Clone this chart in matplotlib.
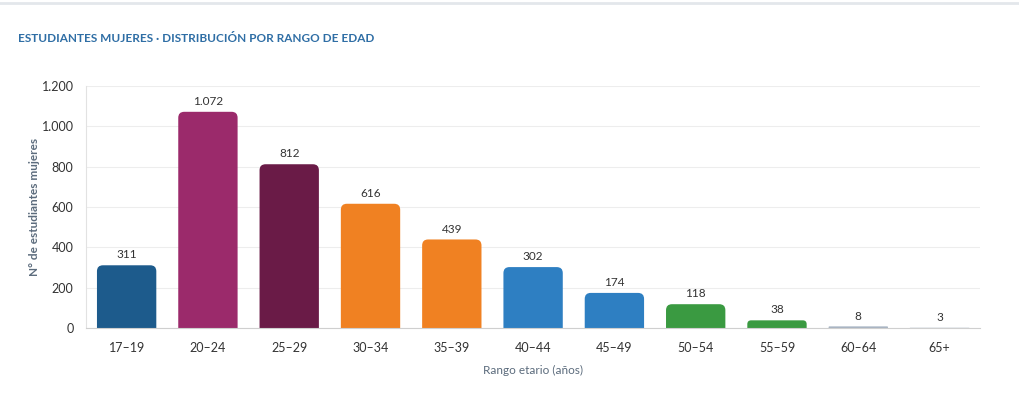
import matplotlib.pyplot as plt
from matplotlib.patches import PathPatch
from matplotlib.path import Path
from matplotlib.lines import Line2D
from matplotlib.ticker import FuncFormatter

plt.rcParams['font.family'] = ['Lato', 'DejaVu Sans']

rangos = ['17–19', '20–24', '25–29', '30–34', '35–39', '40–44',
          '45–49', '50–54', '55–59', '60–64', '65+']
mujeres = [311, 1072, 812, 616, 439, 302, 174, 118, 38, 8, 3]
colores = ['#1d5b8c', '#9b2a6b', '#6a1b47', '#f08122', '#f08122', '#2e7fc2',
           '#2e7fc2', '#3a9a41', '#3a9a41', '#a7b3c2', '#dde1e6']


def miles(v, pos=None):
    return f'{int(v):,}'.replace(',', '.')


fig = plt.figure(figsize=(10.2, 3.97), dpi=100)
ax = fig.add_axes([0.0843, 0.1738, 0.8767, 0.6096])

x = list(range(len(rangos)))
bars = ax.bar(x, mujeres, width=0.73, color=colores)
ax.set_xlim(-0.5, len(rangos) - 0.5)
ax.set_ylim(0, 1200)

# swap each bar for a path with rounded top corners (~6 px)
px_x = 0.8767 * 1020 / len(rangos)
px_y = 0.6096 * 397 / 1200
for b, c in zip(bars, colores):
    b.set_visible(False)
    x0, w, h = b.get_x(), b.get_width(), b.get_height()
    x1 = x0 + w
    r = min(6.0, h * px_y / 2)
    rx, ry = r / px_x, r / px_y
    verts = [(x0, 0), (x0, h - ry), (x0, h), (x0 + rx, h), (x1 - rx, h),
             (x1, h), (x1, h - ry), (x1, 0), (x0, 0)]
    codes = [Path.MOVETO, Path.LINETO, Path.CURVE3, Path.CURVE3, Path.LINETO,
             Path.CURVE3, Path.CURVE3, Path.LINETO, Path.CLOSEPOLY]
    ax.add_patch(PathPatch(Path(verts, codes), fc=c, ec='none', zorder=2))

for xi, v in zip(x, mujeres):
    ax.annotate(miles(v), (xi, v), xytext=(0, 3.5), textcoords='offset points',
                ha='center', va='bottom', fontsize=8.5, color='#333333')

ax.yaxis.set_major_formatter(FuncFormatter(miles))
ax.set_yticks(range(0, 1201, 200))
ax.set_xticks(x)
ax.set_xticklabels(rangos)
ax.tick_params(axis='both', length=0, labelsize=9, colors='#333333')
ax.tick_params(axis='x', pad=10)
ax.tick_params(axis='y', pad=9)
ax.grid(axis='y', color='#ededed', lw=0.8, zorder=0)
ax.set_axisbelow(True)
for s in ['top', 'right']:
    ax.spines[s].set_visible(False)
ax.spines['left'].set_color('#e2e2e2')
ax.spines['bottom'].set_color('#cfcfcf')

ax.set_ylabel('N° de estudiantes mujeres', fontsize=8.5, fontweight='bold',
              color='#5b6b7c', labelpad=1)
ax.set_xlabel('Rango etario (años)', fontsize=8.5, color='#5b6b7c', labelpad=8)

fig.text(18 / 1020, 1 - 38 / 397, 'ESTUDIANTES MUJERES · DISTRIBUCIÓN POR RANGO DE EDAD',
         fontsize=8.5, fontweight='bold', color='#2f6ea5', va='center', ha='left')
fig.add_artist(Line2D([0, 1], [1 - 2.5 / 397] * 2, transform=fig.transFigure,
                      color='#e3e7eb', lw=2))

fig.savefig('out.png', dpi=100, facecolor='white')
